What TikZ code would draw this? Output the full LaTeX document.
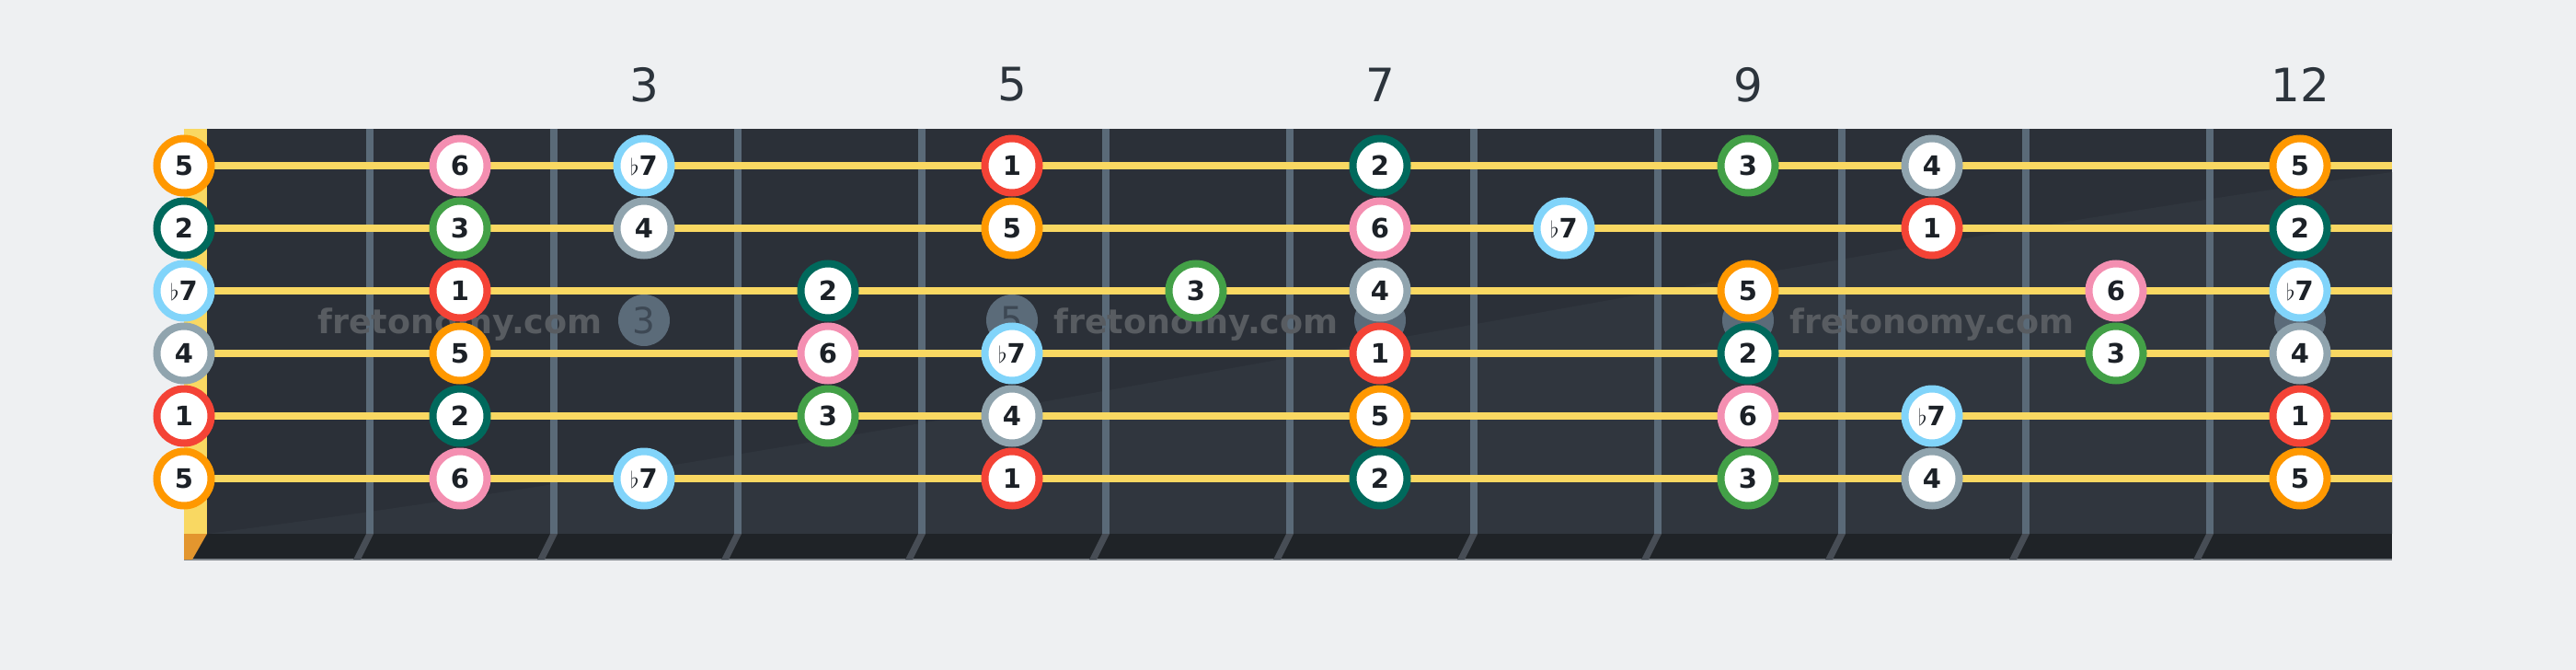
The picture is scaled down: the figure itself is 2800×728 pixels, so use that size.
\documentclass[tikz,border=0pt]{standalone}
\usepackage{fontspec}
\setmainfont{DejaVu Sans}
\definecolor{bg}{HTML}{EEF0F2}
\definecolor{board}{HTML}{2B3038}
\definecolor{boardlt}{HTML}{30363E}
\definecolor{stripc}{HTML}{1F2327}
\definecolor{fretc}{HTML}{5A6A78}
\definecolor{stripfret}{HTML}{474D55}
\definecolor{strc}{HTML}{F9D862}
\definecolor{nutlow}{HTML}{E3962E}
\definecolor{inlayc}{HTML}{5B6B79}
\definecolor{inlaytxt}{HTML}{3D4854}
\definecolor{wmark}{HTML}{585C61}
\definecolor{labc}{HTML}{2C343C}
\definecolor{ntext}{HTML}{1C2127}
\definecolor{bottomline}{HTML}{80868C}
\definecolor{cI}{HTML}{F44336}
\definecolor{cII}{HTML}{00695C}
\definecolor{cIII}{HTML}{43A047}
\definecolor{cIV}{HTML}{90A4AE}
\definecolor{cV}{HTML}{FF9800}
\definecolor{cVI}{HTML}{F48FB1}
\definecolor{cVII}{HTML}{81D4FA}
\newcommand\flatseven{\textmd{$\flat$}7}
\begin{document}
\begin{tikzpicture}[x=1pt,y=-1pt,
  notec/.style={circle, draw=#1, fill=white, line width=8pt, minimum size=59pt,
    inner sep=0pt, text=ntext, font=\fontsize{29}{29}\selectfont\bfseries},
  inlaydot/.style={circle, fill=inlayc, minimum size=56pt, inner sep=0pt,
    text=inlaytxt, font=\fontsize{39}{39}\selectfont},
  wmarktext/.style={text=wmark, font=\fontsize{36.5}{36.5}\selectfont\bfseries, inner sep=0pt},
  fretlabel/.style={text=labc, font=\fontsize{50}{50}\selectfont, inner sep=0pt},
  stringline/.style={strc, line width=8pt},
  fretwire/.style={fretc, line width=8pt}]
\useasboundingbox (0,0) rectangle (2800,728);
\fill[bg] (0,0) rectangle (2800,728);
% fretboard
\fill[board] (200,140) rectangle (2600,580);
\fill[boardlt] (225,580) .. controls (1000,480) and (1800,300) .. (2600,187) -- (2600,580) -- cycle;
% bottom edge strip
\fill[stripc] (200,580) rectangle (2600,608);
\draw[bottomline, line width=2pt] (200,608) -- (2600,608);
\foreach \n in {1,...,11}{
  \pgfmathsetmacro\fx{202+200*\n}
  \fill[stripfret] (\fx-4,580) -- (\fx+4,580) -- (\fx-10,608) -- (\fx-18,608) -- cycle;
  \draw[fretwire] (\fx,140) -- (\fx,580);
}
% nut
\fill[strc] (200,140) rectangle (225,580);
\fill[nutlow] (200,580) -- (225,580) -- (209,608) -- (200,608) -- cycle;
% inlays
\node[inlaydot] (in3) at (700,348) {3};
\node[inlaydot] (in5) at (1100,348) {5};
\node[inlaydot] (in7) at (1500,348) {};
\node[inlaydot] (in9) at (1900,348) {};
\node[inlaydot] (in12) at (2500,348) {};
% watermarks
\node[wmarktext] (wm1) at (500,353) {fretonomy.com};
\node[wmarktext] (wm2) at (1300,353) {fretonomy.com};
\node[wmarktext] (wm3) at (2100,353) {fretonomy.com};
% strings
\foreach \s in {1,...,6}{
  \pgfmathsetmacro\sy{180+68*(\s-1)}
  \draw[stringline] (200,\sy) -- (2600,\sy);
}
% fret numbers
\node[fretlabel] (f3) at (700,92) {3};
\node[fretlabel] (f5) at (1100,92) {5};
\node[fretlabel] (f7) at (1500,92) {7};
\node[fretlabel] (f9) at (1900,92) {9};
\node[fretlabel] (f12) at (2500,92) {12};
% notes: string/fret/colour/label
\foreach \s/\f/\c/\t in {
  1/0/cV/5, 1/2/cVI/6, 1/3/cVII/\flatseven, 1/5/cI/1, 1/7/cII/2, 1/9/cIII/3, 1/10/cIV/4, 1/12/cV/5,
  2/0/cII/2, 2/2/cIII/3, 2/3/cIV/4, 2/5/cV/5, 2/7/cVI/6, 2/8/cVII/\flatseven, 2/10/cI/1, 2/12/cII/2,
  3/0/cVII/\flatseven, 3/2/cI/1, 3/4/cII/2, 3/6/cIII/3, 3/7/cIV/4, 3/9/cV/5, 3/11/cVI/6, 3/12/cVII/\flatseven,
  4/0/cIV/4, 4/2/cV/5, 4/4/cVI/6, 4/5/cVII/\flatseven, 4/7/cI/1, 4/9/cII/2, 4/11/cIII/3, 4/12/cIV/4,
  5/0/cI/1, 5/2/cII/2, 5/4/cIII/3, 5/5/cIV/4, 5/7/cV/5, 5/9/cVI/6, 5/10/cVII/\flatseven, 5/12/cI/1,
  6/0/cV/5, 6/2/cVI/6, 6/3/cVII/\flatseven, 6/5/cI/1, 6/7/cII/2, 6/9/cIII/3, 6/10/cIV/4, 6/12/cV/5}{
  \pgfmathsetmacro\nx{ifthenelse(\f==0,200,100+200*\f)}
  \pgfmathsetmacro\ny{180+68*(\s-1)}
  \node[notec=\c] (n-\s-\f) at (\nx,\ny) {\t};
}
\end{tikzpicture}
\end{document}
